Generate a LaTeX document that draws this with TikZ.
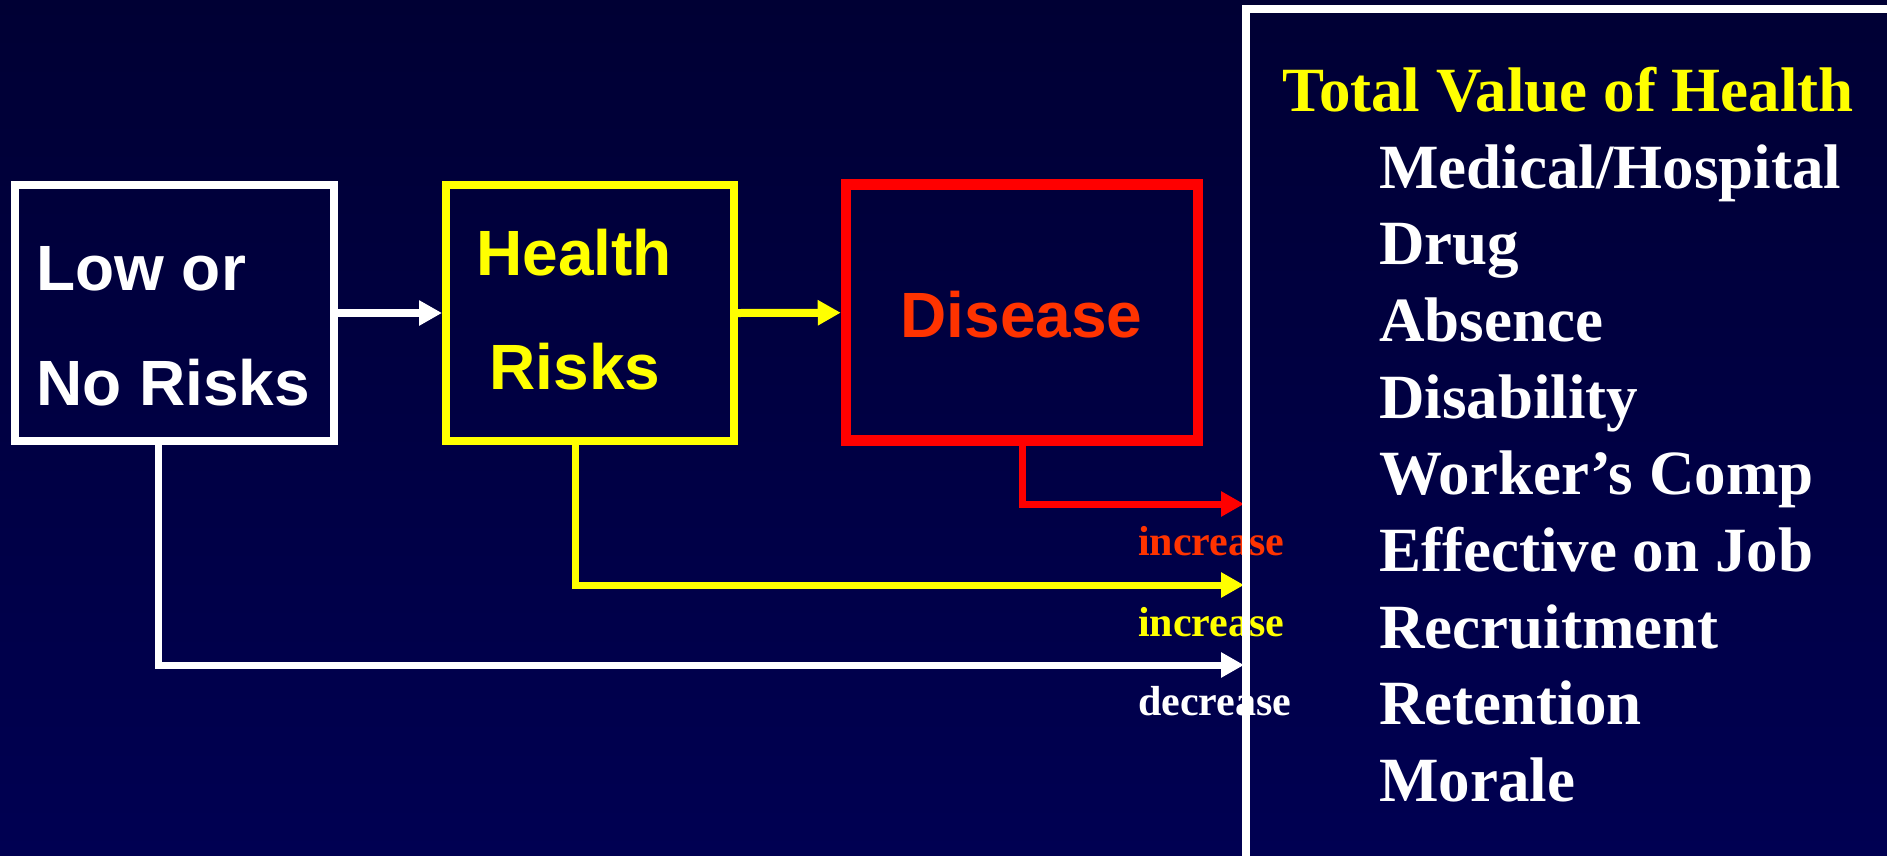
\documentclass[tikz,border=0pt]{standalone}
\usepackage{fontspec}
\setmainfont{Liberation Serif}
\newfontfamily\arialfont{Liberation Sans}
\usetikzlibrary{arrows.meta}
\definecolor{bgtop}{RGB}{0,0,52}
\definecolor{bgbot}{RGB}{0,0,82}
\definecolor{diseasered}{RGB}{255,51,0}
\definecolor{hyellow}{RGB}{255,255,0}
\definecolor{hred}{RGB}{255,0,0}
\begin{document}
\begin{tikzpicture}[x=1pt,y=-1pt,
  boxnode/.style={rectangle,inner sep=0pt,minimum height=256pt},
  sanstext/.style={font=\arialfont\bfseries\fontsize{64}{64}\selectfont,inner sep=0pt},
  listtext/.style={font=\bfseries\fontsize{63}{63}\selectfont,text=white,inner sep=0pt,anchor=base west},
  lbltext/.style={font=\bfseries\fontsize{42}{42}\selectfont,inner sep=0pt,anchor=base west},
  shortflow/.style={line width=8pt,-{Triangle[length=23pt,width=24pt]}},
  flow/.style={line width=7pt,-{Triangle[length=23pt,width=24pt]}}]
\useasboundingbox (0,0) rectangle (1887,855);
\clip (0,0) rectangle (1887,855);
\shade[top color=bgtop,bottom color=bgbot] (0,0) rectangle (1887,855);

% boxes
\node[boxnode,draw=white,line width=8pt,minimum width=319pt] (low) at (174,313) {};
\node[boxnode,draw=hyellow,line width=8pt,minimum width=288pt] (risk) at (590,313) {};
\node[boxnode,draw=hred,line width=10.5pt,minimum width=352pt] (disease) at (1022,312.7) {};

% box texts
\node[sanstext,text=white,anchor=base west] (lowa) at (36,290) {Low or};
\node[sanstext,text=white,anchor=base west] (lowb) at (36,405) {No Risks};
\node[sanstext,text=hyellow,anchor=base] (riska) at (574,275) {Health};
\node[sanstext,text=hyellow,anchor=base] (riskb) at (575,389) {Risks};
\node[sanstext,text=diseasered,anchor=base] (diseasetxt) at (1021.5,337.5) {Disease};

% short arrows
\draw[shortflow,white] (low.east) -- (risk.west);
\draw[shortflow,hyellow] (risk.east) -- (disease.west);

% long connectors
\coordinate (dend) at (1244,504);
\coordinate (rend) at (1244,585);
\coordinate (lend) at (1244,665);
\draw[flow,hred] (disease.south) |- (dend);
\draw[flow,hyellow] ([xshift=-15pt]risk.south) |- (rend);
\draw[flow,white] ([xshift=-16pt]low.south) |- (lend);

% labels
\node[lbltext,text=diseasered] (lbla) at (1138,555) {increase};
\node[lbltext,text=hyellow] (lblb) at (1138,636) {increase};
\node[lbltext,text=white] (lblc) at (1138,715.6) {decrease};

% value panel
\draw[white,line width=8pt] (1246,9) rectangle (1960,930);
\node[listtext,text=hyellow] (title) at (1282.5,111.8) {Total Value of Health};
\node[listtext] (v1) at (1379,188) {Medical/Hospital};
\node[listtext] (v2) at (1379,264.7) {Drug};
\node[listtext] (v3) at (1379,341.4) {Absence};
\node[listtext] (v4) at (1379,418.1) {Disability};
\node[listtext] (v5) at (1379,494.8) {Worker’s Comp};
\node[listtext] (v6) at (1379,571.5) {Effective on Job};
\node[listtext] (v7) at (1379,648.2) {Recruitment};
\node[listtext] (v8) at (1379,724.9) {Retention};
\node[listtext] (v9) at (1379,801.6) {Morale};
\end{tikzpicture}
\end{document}
